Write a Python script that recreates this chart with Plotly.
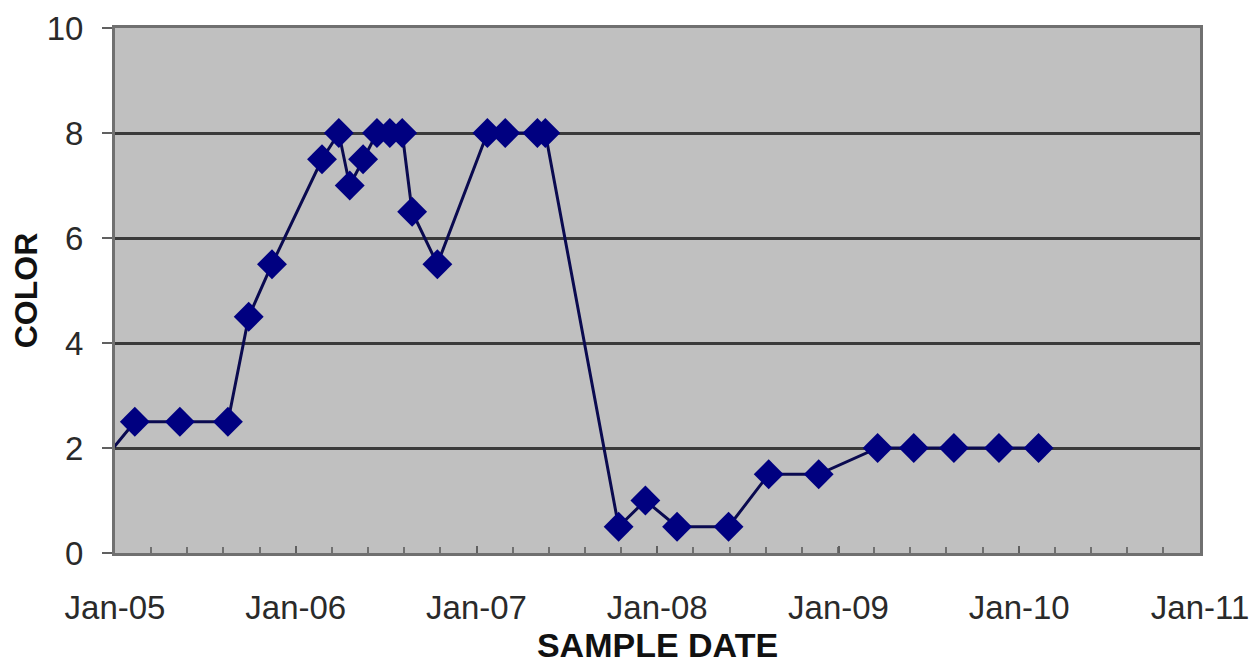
import plotly.graph_objects as go

# Data
sample_dates = [
    "2004-11-15", "2005-02-10", "2005-05-12", "2005-08-17", "2005-09-28", "2005-11-14",
    "2006-02-23", "2006-03-29", "2006-04-20", "2006-05-17", "2006-06-14", "2006-07-10",
    "2006-08-04", "2006-08-24", "2006-10-14", "2007-01-23", "2007-02-28", "2007-05-04",
    "2007-05-20", "2007-10-15", "2007-12-08", "2008-02-10", "2008-05-24", "2008-08-13",
    "2008-11-22", "2009-03-21", "2009-06-02", "2009-08-22", "2009-11-21", "2010-02-09",
]
color_values = [
    1.5, 2.5, 2.5, 2.5, 4.5, 5.5,
    7.5, 8, 7, 7.5, 8, 8,
    8, 6.5, 5.5, 8, 8, 8,
    8, 0.5, 1, 0.5, 0.5, 1.5,
    1.5, 2, 2, 2, 2, 2,
]
x_range = ["2005-01-01", "2011-01-01"]
y_range = [0, 10]

fig = go.Figure()
fig.add_trace(go.Scatter(
    x=sample_dates, y=color_values, mode="lines+markers",
    line=dict(color="#0a0a50", width=3),
    marker=dict(symbol="diamond", size=23, color="#000080",
                line=dict(color="#000080", width=0)),
    showlegend=False,
))

font_family = "Liberation Sans, Arial, sans-serif"
fig.update_layout(
    width=1260, height=665,
    margin=dict(l=107, r=68, t=20, b=120),
    paper_bgcolor="white", plot_bgcolor="#c0c0c0",
    font=dict(family=font_family, size=33, color="#2a2a2a"),
    xaxis=dict(
        type="date", range=x_range, dtick="M12", tick0="2005-01-01",
        tickformat="%b-%y", ticks="inside", ticklen=7, tickwidth=2, tickcolor="#606060",
        ticklabelstandoff=23, automargin=False,
        showgrid=False, showline=True, linecolor="#707070", linewidth=3, mirror=True,
        minor=dict(dtick=73 * 86400000, tick0="2005-01-01", ticks="inside",
                   ticklen=6, tickwidth=2, tickcolor="#707070", showgrid=False),
        title=dict(text="<b>SAMPLE DATE</b>", standoff=4,
                   font=dict(size=34, color="#111111")),
        zeroline=False,
    ),
    yaxis=dict(
        range=y_range, dtick=2, ticks="outside", ticklen=10, tickwidth=2,
        tickcolor="#606060", ticklabelstandoff=12, automargin=False,
        showgrid=True, gridcolor="#3a3a3a", gridwidth=3,
        showline=True, linecolor="#707070", linewidth=3, mirror=True,
        zeroline=False,
        title=dict(text="<b>COLOR</b>", standoff=4,
                   font=dict(size=32, color="#111111")),
    ),
)

fig.write_html("out.html")
